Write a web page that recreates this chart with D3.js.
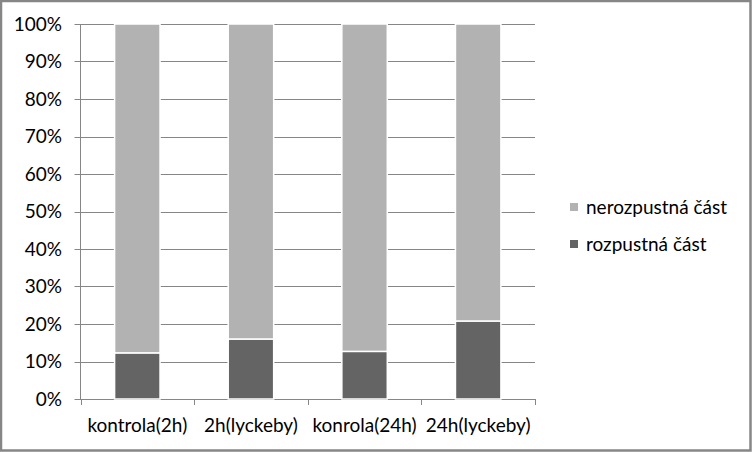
<!DOCTYPE html>
<html><head><meta charset="utf-8">
<script src="https://cdn.jsdelivr.net/npm/d3@7"></script>
<style>html,body{margin:0;padding:0;background:#fff;}svg{display:block;}</style>
</head><body>
<script>
const categories = ["kontrola(2h)", "2h(lyckeby)", "konrola(24h)", "24h(lyckeby)"];
const rozpustna = [12.3, 16.0, 12.7, 20.8];
const nerozpustna = [87.7, 84.0, 87.3, 79.2];
const seriesNames = ["rozpustná část", "nerozpustná část"];
const seriesColors = ["#646464", "#b2b2b2"];
const yTicks = [0,10,20,30,40,50,60,70,80,90,100];

const W = 752, H = 452;
const svg = d3.select("body").append("svg").attr("width", W).attr("height", H);
svg.append("rect").attr("x",1).attr("y",1).attr("width",W-2.5).attr("height",H-2.5)
  .attr("fill","#fff").attr("stroke","#868686").attr("stroke-width",2.5);

const m = {left: 80.5, right: 535, top: 24, bottom: 399};
const y = d3.scaleLinear().domain([0,100]).range([m.bottom, m.top]);
const x = d3.scaleBand().domain(categories).range([m.left, m.right]);
const font = "Lato, 'Open Sans', sans-serif";
const fs = 19;

// gridlines
svg.append("g").selectAll("line").data(yTicks).join("line")
  .attr("x1", m.left - 6).attr("x2", m.right)
  .attr("y1", d => Math.round(y(d)) + 0.5).attr("y2", d => Math.round(y(d)) + 0.5)
  .attr("stroke", "#868686").attr("stroke-width", 1);

// y axis line
svg.append("line").attr("x1", m.left).attr("x2", m.left).attr("y1", m.top).attr("y2", m.bottom + 0.5)
  .attr("stroke","#868686");

// x ticks at band boundaries
const bounds = categories.map(c => x(c)).concat([m.right]);
svg.append("g").selectAll("line").data(bounds).join("line")
  .attr("x1", d=>Math.round(d)+0.5).attr("x2", d=>Math.round(d)+0.5)
  .attr("y1", m.bottom).attr("y2", m.bottom + 6).attr("stroke","#868686");

// y labels
svg.append("g").selectAll("text").data(yTicks).join("text")
  .attr("x", 62).attr("y", d => y(d)).attr("dy","0.35em")
  .attr("text-anchor","end").attr("font-family",font).attr("font-size",fs).attr("fill","#000")
  .text(d => d + "%");

// x labels
svg.append("g").selectAll("text").data(categories).join("text")
  .attr("x", d => x(d) + x.bandwidth()/2).attr("y", 432)
  .attr("text-anchor","middle").attr("font-family",font).attr("font-size",fs).attr("fill","#000")
  .text(d => d);

// stacked bars
const rows = categories.map((c,i)=>({cat:c, r: rozpustna[i], n: nerozpustna[i]}));
const stack = d3.stack().keys(["r","n"])(rows);
const bw = x.bandwidth() * 0.4;
stack.forEach((layer, li) => {
  svg.append("g").selectAll("rect").data(layer).join("rect")
    .attr("x", d => x(d.data.cat) + x.bandwidth()/2 - bw/2)
    .attr("width", bw)
    .attr("y", d => y(d[1]))
    .attr("height", d => y(d[0]) - y(d[1]))
    .attr("fill", seriesColors[li])
    .attr("stroke", "#fff").attr("stroke-width", 1.5);
});

// legend
const legend = [{name: seriesNames[1], color: seriesColors[1]}, {name: seriesNames[0], color: seriesColors[0]}];
const lg = svg.append("g").selectAll("g").data(legend).join("g")
  .attr("transform", (d,i) => `translate(570, ${207 + i*37})`);
lg.append("rect").attr("x",0).attr("y",-4).attr("width",8).attr("height",8).attr("fill", d=>d.color);
lg.append("text").attr("x",16).attr("y",0).attr("dy","0.35em")
  .attr("font-family",font).attr("font-size",fs).attr("fill","#000").text(d=>d.name);
</script>
</body></html>
